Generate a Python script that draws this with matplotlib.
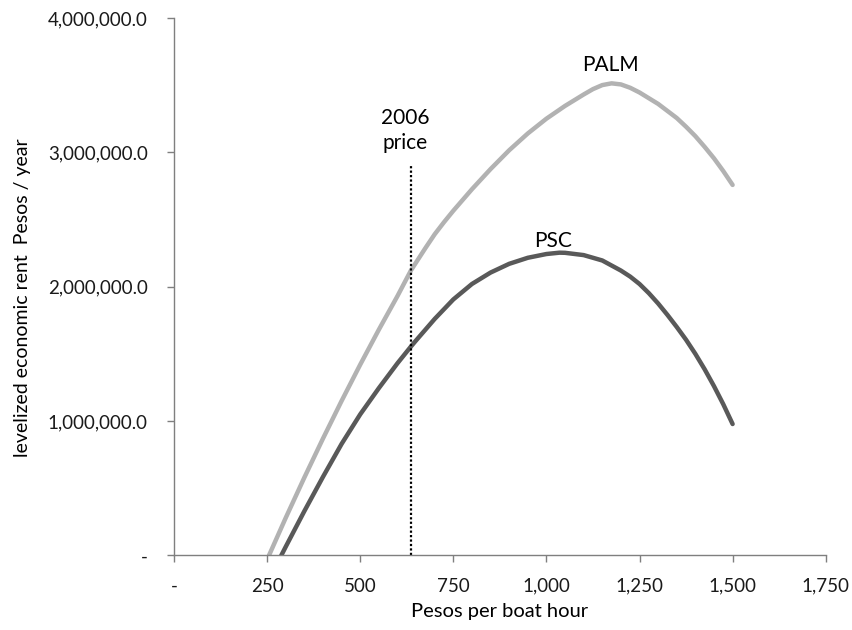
import matplotlib
matplotlib.use("Agg")
from matplotlib import pyplot as plt
from matplotlib.ticker import FuncFormatter

# values (pesos per boat hour, pesos / year)
PALM_X = [255, 300, 350, 400, 450, 500, 550, 600, 636, 650, 675, 700, 725,
          750, 800, 850, 900, 950, 1000, 1050, 1100, 1125, 1150, 1175, 1200,
          1225, 1250, 1300, 1350, 1375, 1400, 1425, 1450, 1475, 1500]
PALM_Y = [0, 280000, 580000, 870000, 1150000, 1420000, 1680000, 1930000,
          2120000, 2180000, 2287000, 2390000, 2480000, 2565000, 2725000,
          2875000, 3015000, 3140000, 3250000, 3345000, 3430000, 3470000,
          3500000, 3513000, 3505000, 3480000, 3445000, 3360000, 3255000,
          3190000, 3120000, 3040000, 2955000, 2860000, 2757000]

PSC_X = [288, 300, 350, 400, 450, 500, 550, 600, 636, 650, 700, 750, 800,
         850, 900, 950, 1000, 1035, 1050, 1100, 1150, 1200, 1225, 1250,
         1275, 1300, 1325, 1350, 1375, 1400, 1425, 1450, 1475, 1500]
PSC_Y = [0, 65000, 330000, 585000, 830000, 1050000, 1245000, 1430000,
         1554000, 1600000, 1760000, 1905000, 2020000, 2105000, 2170000,
         2215000, 2243000, 2253000, 2252000, 2235000, 2195000, 2120000,
         2075000, 2020000, 1952000, 1875000, 1790000, 1700000, 1605000,
         1500000, 1385000, 1260000, 1125000, 978000]

PRICE_2006 = 636
PRICE_LINE_TOP = 2906000

X_TICKS = [0, 250, 500, 750, 1000, 1250, 1500, 1750]
Y_TICKS = [0, 1000000, 2000000, 3000000, 4000000]

plt.rcParams["font.family"] = ["Lato", "DejaVu Sans"]

fig = plt.figure(figsize=(8.53, 6.3), dpi=100)
ax = fig.add_axes([0.204, 0.1183, 0.764, 0.8533])

ax.plot(PALM_X, PALM_Y, color="#b2b2b2", lw=3.2, solid_capstyle="round",
        solid_joinstyle="round")
ax.plot(PSC_X, PSC_Y, color="#595959", lw=3.2, solid_capstyle="round",
        solid_joinstyle="round")
ax.plot([PRICE_2006, PRICE_2006], [0, PRICE_LINE_TOP], color="black",
        lw=1.6, linestyle=(0, (1, 1)))

ax.text(620, 3160000, "2006\nprice", ha="center", va="center", fontsize=15,
        linespacing=1.3)
ax.text(1172, 3650000, "PALM", ha="center", va="center", fontsize=15)
ax.text(1017, 2340000, "PSC", ha="center", va="center", fontsize=15)

ax.set_xlim(0, 1750)
ax.set_ylim(0, 4000000)
ax.set_xticks(X_TICKS)
ax.set_yticks(Y_TICKS)
ax.xaxis.set_major_formatter(FuncFormatter(lambda v, p: "-" if v == 0 else f"{v:,.0f}"))
ax.yaxis.set_major_formatter(FuncFormatter(lambda v, p: "-" if v == 0 else f"{v:,.1f}"))

for side in ["top", "right"]:
    ax.spines[side].set_visible(False)
for side in ["left", "bottom"]:
    ax.spines[side].set_color("#7f7f7f")
    ax.spines[side].set_linewidth(1.0)
ax.tick_params(axis="both", direction="out", length=5, width=1.0,
               color="#7f7f7f", labelsize=13.5, labelcolor="#1a1a1a")
ax.tick_params(axis="x", pad=11)
ax.tick_params(axis="y", pad=14)

ax.set_xlabel("Pesos per boat hour", fontsize=14.5, labelpad=6)
ax.set_ylabel("levelized economic rent  Pesos / year", fontsize=14)
ax.yaxis.set_label_coords(-0.22, 0.48)

fig.savefig("out.png", dpi=100)
